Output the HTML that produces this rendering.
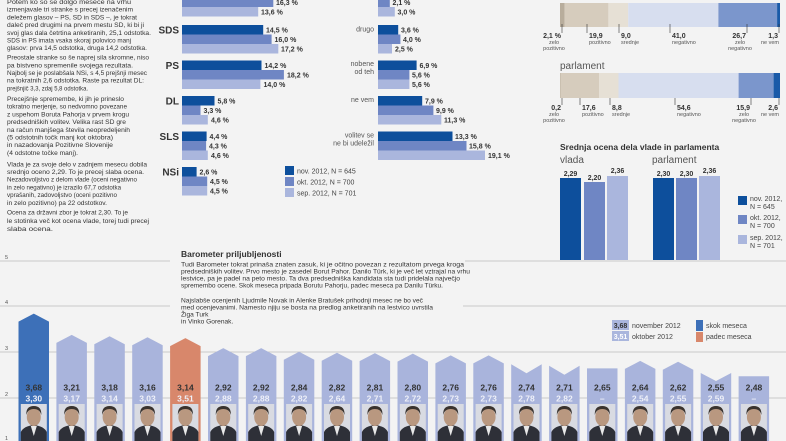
<!DOCTYPE html>
<html><head><meta charset="utf-8"><style>
html,body{margin:0;padding:0;background:#f3f3f3;}
svg{display:block;font-family:"Liberation Sans Narrow","Liberation Sans",sans-serif;}
.t{font-size:6.6px;fill:#333;}
.v{font-size:7px;fill:#333;font-weight:bold;}
.lb{font-size:10px;fill:#333;font-weight:bold;text-anchor:end;}
.rl{font-size:7px;fill:#555;text-anchor:end;}
.s{font-size:5.5px;fill:#555;}
.g{font-size:7px;fill:#444;}
</style></head><body>
<svg width="786" height="441" viewBox="0 0 786 441" xmlns="http://www.w3.org/2000/svg">
<rect width="786" height="441" fill="#f3f3f3"/>
<!-- grid -->
<g stroke="#bdbdbd" stroke-width="0.8">
<line x1="0" y1="261" x2="170" y2="261"/><line x1="465" y1="261" x2="786" y2="261"/>
<line x1="0" y1="306" x2="170" y2="306"/><line x1="463" y1="306" x2="786" y2="306"/>
<line x1="0" y1="352" x2="786" y2="352"/>
<line x1="0" y1="398" x2="786" y2="398"/>
</g>
<g class="s"><text x="5" y="259">5</text><text x="5" y="304">4</text><text x="5" y="350">3</text><text x="5" y="396">2</text><text x="5" y="440">1</text></g>

<!-- left column text -->
<g class="t">
<text x="7" y="4" textLength="124" lengthAdjust="spacingAndGlyphs">Potem ko so se dolgo mesece na vrhu</text>
<text x="7" y="11.7" textLength="126" lengthAdjust="spacingAndGlyphs">izmenjavale tri stranke s precej izenačenim</text>
<text x="7" y="19.4" textLength="130" lengthAdjust="spacingAndGlyphs">deležem glasov – PS, SD in SDS –, je tokrat</text>
<text x="7" y="27.1" textLength="137" lengthAdjust="spacingAndGlyphs">daleč pred drugimi na prvem mestu SD, ki bi ji</text>
<text x="7" y="34.8" textLength="144" lengthAdjust="spacingAndGlyphs">svoj glas dala četrtina anketiranih, 25,1 odstotka.</text>
<text x="7" y="42.5" textLength="124" lengthAdjust="spacingAndGlyphs">SDS in PS imata vsaka skoraj polovico manj</text>
<text x="7" y="50.2" textLength="140" lengthAdjust="spacingAndGlyphs">glasov: prva 14,5 odstotka, druga 14,2 odstotka.</text>
<text x="7" y="59.6" textLength="142" lengthAdjust="spacingAndGlyphs">Preostale stranke so še naprej sila skromne, niso</text>
<text x="7" y="67.3" textLength="126" lengthAdjust="spacingAndGlyphs">pa bistveno spremenile svojega rezultata.</text>
<text x="7" y="75" textLength="140" lengthAdjust="spacingAndGlyphs">Najbolj se je poslabšala NSi, s 4,5 prejšnji mesec</text>
<text x="7" y="82.7" textLength="137" lengthAdjust="spacingAndGlyphs">na tokratnih 2,6 odstotka. Raste pa rezultat DL:</text>
<text x="7" y="90.4" textLength="81" lengthAdjust="spacingAndGlyphs">prejšnjič 3,3, zdaj 5,8 odstotka.</text>
<text x="7" y="101" textLength="117" lengthAdjust="spacingAndGlyphs">Precejšnje spremembe, ki jih je prineslo</text>
<text x="7" y="108.7" textLength="120" lengthAdjust="spacingAndGlyphs">tokratno merjenje, so nedvomno povezane</text>
<text x="7" y="116.4" textLength="122" lengthAdjust="spacingAndGlyphs">z uspehom Boruta Pahorja v prvem krogu</text>
<text x="7" y="124.1" textLength="119" lengthAdjust="spacingAndGlyphs">predsedniških volitev. Velika rast SD gre</text>
<text x="7" y="131.8" textLength="123" lengthAdjust="spacingAndGlyphs">na račun manjšega števila neopredeljenih</text>
<text x="7" y="139.5" textLength="106" lengthAdjust="spacingAndGlyphs">(5 odstotnih točk manj kot oktobra)</text>
<text x="7" y="147.2" textLength="106" lengthAdjust="spacingAndGlyphs">in nazadovanja Pozitivne Slovenije</text>
<text x="7" y="154.9" textLength="71" lengthAdjust="spacingAndGlyphs">(4 odstotne točke manj).</text>
<text x="7" y="166.3" textLength="140" lengthAdjust="spacingAndGlyphs">Vlada je za svoje delo v zadnjem mesecu dobila</text>
<text x="7" y="174" textLength="137" lengthAdjust="spacingAndGlyphs">srednjo oceno 2,29. To je precej slaba ocena.</text>
<text x="7" y="181.7" textLength="130" lengthAdjust="spacingAndGlyphs">Nezadovoljstvo z delom vlade (oceni negativno</text>
<text x="7" y="189.4" textLength="114" lengthAdjust="spacingAndGlyphs">in zelo negativno) je izrazilo 67,7 odstotka</text>
<text x="7" y="197.1" textLength="110" lengthAdjust="spacingAndGlyphs">vprašanih, zadovoljstvo (oceni pozitivno</text>
<text x="7" y="204.8" textLength="100" lengthAdjust="spacingAndGlyphs">in zelo pozitivno) pa 22 odstotkov.</text>
<text x="7" y="214.6" textLength="121" lengthAdjust="spacingAndGlyphs">Ocena za državni zbor je tokrat 2,30. To je</text>
<text x="7" y="222.8" textLength="142" lengthAdjust="spacingAndGlyphs">le stotinka več kot ocena vlade, torej tudi precej</text>
<text x="7" y="231" textLength="46" lengthAdjust="spacingAndGlyphs">slaba ocena.</text>
</g>

<!-- party bars -->
<g>
<rect x="182" y="-12" width="140.6" height="9.5" fill="#0d4f9c"/>
<rect x="182" y="-2.5" width="91.3" height="9.5" fill="#6f86c4"/>
<rect x="182" y="7" width="76.2" height="9.5" fill="#aab6dd"/>
<rect x="182" y="25" width="81.2" height="9.5" fill="#0d4f9c"/>
<rect x="182" y="34.5" width="89.6" height="9.5" fill="#6f86c4"/>
<rect x="182" y="44" width="96.3" height="9.5" fill="#aab6dd"/>
<rect x="182" y="60.5" width="79.5" height="9.5" fill="#0d4f9c"/>
<rect x="182" y="70" width="101.9" height="9.5" fill="#6f86c4"/>
<rect x="182" y="79.5" width="78.4" height="9.5" fill="#aab6dd"/>
<rect x="182" y="96" width="32.5" height="9.5" fill="#0d4f9c"/>
<rect x="182" y="105.5" width="18.5" height="9.5" fill="#6f86c4"/>
<rect x="182" y="115" width="25.8" height="9.5" fill="#aab6dd"/>
<rect x="182" y="131.5" width="24.6" height="9.5" fill="#0d4f9c"/>
<rect x="182" y="141" width="24.1" height="9.5" fill="#6f86c4"/>
<rect x="182" y="150.5" width="25.8" height="9.5" fill="#aab6dd"/>
<rect x="182" y="167" width="14.6" height="9.5" fill="#0d4f9c"/>
<rect x="182" y="176.5" width="25.2" height="9.5" fill="#6f86c4"/>
<rect x="182" y="186" width="25.2" height="9.5" fill="#aab6dd"/>
</g>
<g class="v">
<text x="276" y="5">16,3 %</text><text x="261" y="14.5">13,6 %</text>
<text x="266" y="32.3">14,5 %</text><text x="274.5" y="41.8">16,0 %</text><text x="281" y="51.3">17,2 %</text>
<text x="264.5" y="67.8">14,2 %</text><text x="287" y="77.3">18,2 %</text><text x="263.5" y="86.8">14,0 %</text>
<text x="217.5" y="103.3">5,8 %</text><text x="203.5" y="112.8">3,3 %</text><text x="211" y="122.3">4,6 %</text>
<text x="209.5" y="138.8">4,4 %</text><text x="209" y="148.3">4,3 %</text><text x="211" y="157.8">4,6 %</text>
<text x="199.5" y="174.3">2,6 %</text><text x="210" y="183.8">4,5 %</text><text x="210" y="193.3">4,5 %</text>
</g>
<g class="lb">
<text x="179" y="33.5">SDS</text><text x="179" y="69">PS</text><text x="179" y="104.5">DL</text>
<text x="179" y="140">SLS</text><text x="179" y="175.5">NSi</text>
</g>

<!-- right group bars -->
<g>
<rect x="378" y="-2.5" width="11.8" height="9.5" fill="#6f86c4"/>
<rect x="378" y="7" width="16.8" height="9.5" fill="#aab6dd"/>
<rect x="378" y="25" width="20.2" height="9.5" fill="#0d4f9c"/>
<rect x="378" y="34.5" width="22.4" height="9.5" fill="#6f86c4"/>
<rect x="378" y="44" width="14" height="9.5" fill="#aab6dd"/>
<rect x="378" y="60.5" width="38.6" height="9.5" fill="#0d4f9c"/>
<rect x="378" y="70" width="31.4" height="9.5" fill="#6f86c4"/>
<rect x="378" y="79.5" width="31.4" height="9.5" fill="#aab6dd"/>
<rect x="378" y="96" width="44.2" height="9.5" fill="#0d4f9c"/>
<rect x="378" y="105.5" width="55.4" height="9.5" fill="#6f86c4"/>
<rect x="378" y="115" width="63.3" height="9.5" fill="#aab6dd"/>
<rect x="378" y="131.5" width="74.5" height="9.5" fill="#0d4f9c"/>
<rect x="378" y="141" width="88.5" height="9.5" fill="#6f86c4"/>
<rect x="378" y="150.5" width="107" height="9.5" fill="#aab6dd"/>
</g>
<g class="v">
<text x="392.5" y="5">2,1 %</text><text x="397.5" y="14.5">3,0 %</text>
<text x="401" y="32.3">3,6 %</text><text x="403" y="41.8">4,0 %</text><text x="395" y="51.3">2,5 %</text>
<text x="419.5" y="67.8">6,9 %</text><text x="412" y="77.3">5,6 %</text><text x="412" y="86.8">5,6 %</text>
<text x="425" y="103.3">7,9 %</text><text x="436" y="112.8">9,9 %</text><text x="444" y="122.3">11,3 %</text>
<text x="455" y="138.8">13,3 %</text><text x="469" y="148.3">15,8 %</text><text x="488" y="157.8">19,1 %</text>
</g>
<g class="rl">
<text x="374" y="31.5">drugo</text>
<text x="374" y="66">nobene</text><text x="374" y="74">od teh</text>
<text x="374" y="102">ne vem</text>
<text x="374" y="137.5">volitev se</text><text x="374" y="145.5">ne bi udeležil</text>
</g>
<!-- legend -->
<rect x="285" y="166" width="9" height="9" fill="#0d4f9c"/>
<rect x="285" y="177" width="9" height="9" fill="#6f86c4"/>
<rect x="285" y="188" width="9" height="9" fill="#aab6dd"/>
<g class="g"><text x="297" y="173.5">nov. 2012, N = 645</text><text x="297" y="184.5">okt. 2012, N = 700</text><text x="297" y="195.5">sep. 2012, N = 701</text></g>

<!-- stacked vlada -->
<rect x="560" y="3" width="4.6" height="24" fill="#b8ad9c"/>
<rect x="564.6" y="3" width="43.8" height="24" fill="#d6ccbd"/>
<rect x="608.4" y="3" width="19.8" height="24" fill="#e6e0d5"/>
<rect x="628.2" y="3" width="90.2" height="24" fill="#d7deef"/>
<rect x="718.4" y="3" width="58.7" height="24" fill="#7b96cc"/>
<rect x="777.1" y="3" width="2.9" height="24" fill="#1a5aa8"/>
<g stroke="#333" stroke-width="0.6">
<line x1="562" y1="24" x2="562" y2="33"/><line x1="587" y1="24" x2="587" y2="33"/><line x1="619" y1="24" x2="619" y2="33"/><line x1="670" y1="24" x2="670" y2="33"/><line x1="747" y1="24" x2="747" y2="33"/><line x1="779" y1="24" x2="779" y2="33"/>
<line x1="562" y1="96" x2="562" y2="105"/><line x1="580" y1="96" x2="580" y2="105"/><line x1="610" y1="96" x2="610" y2="105"/><line x1="675" y1="96" x2="675" y2="105"/><line x1="751" y1="96" x2="751" y2="105"/><line x1="779" y1="96" x2="779" y2="105"/>
</g>
<g class="v">
<text x="561" y="38" text-anchor="end">2,1 %</text><text x="589" y="38">19,9</text><text x="621" y="38">9,0</text><text x="672" y="38">41,0</text><text x="746" y="38" text-anchor="end">26,7</text><text x="778" y="38" text-anchor="end">1,3</text>
<text x="561" y="110" text-anchor="end">0,2</text><text x="582" y="110">17,6</text><text x="612" y="110">8,8</text><text x="677" y="110">54,6</text><text x="750" y="110" text-anchor="end">15,9</text><text x="778" y="110" text-anchor="end">2,6</text>
</g>
<g class="s">
<text x="554" y="44" text-anchor="middle">zelo</text><text x="554" y="50" text-anchor="middle">pozitivno</text>
<text x="589" y="44">pozitivno</text><text x="621" y="44">srednje</text><text x="672" y="44">negativno</text>
<text x="740" y="44" text-anchor="middle">zelo</text><text x="740" y="50" text-anchor="middle">negativno</text><text x="779" y="44" text-anchor="end">ne vem</text>
<text x="554" y="116" text-anchor="middle">zelo</text><text x="554" y="122" text-anchor="middle">pozitivno</text>
<text x="582" y="116">pozitivno</text><text x="612" y="116">srednje</text><text x="677" y="116">negativno</text>
<text x="744" y="116" text-anchor="middle">zelo</text><text x="744" y="122" text-anchor="middle">negativno</text><text x="779" y="116" text-anchor="end">ne vem</text>
</g>
<text x="560" y="69" font-size="10" fill="#555">parlament</text>
<rect x="560" y="73" width="0.5" height="25" fill="#b8ad9c"/>
<rect x="560.4" y="73" width="38.8" height="25" fill="#d6ccbd"/>
<rect x="599.2" y="73" width="19.3" height="25" fill="#e6e0d5"/>
<rect x="618.5" y="73" width="120.1" height="25" fill="#d7deef"/>
<rect x="738.6" y="73" width="35" height="25" fill="#7b96cc"/>
<rect x="773.6" y="73" width="6.4" height="25" fill="#1a5aa8"/>

<!-- srednja ocena -->
<text x="560" y="150" font-size="8.5" font-weight="bold" fill="#333">Srednja ocena dela vlade in parlamenta</text>
<text x="560" y="163" font-size="10" fill="#555">vlada</text>
<text x="652" y="163" font-size="10" fill="#555">parlament</text>
<rect x="560" y="178" width="21" height="82" fill="#0d4f9c"/>
<rect x="584" y="182" width="21" height="78" fill="#6f86c4"/>
<rect x="607" y="176" width="21" height="84" fill="#aab6dd"/>
<rect x="653" y="178" width="21" height="82" fill="#0d4f9c"/>
<rect x="676" y="178" width="21" height="82" fill="#6f86c4"/>
<rect x="699" y="176" width="21" height="84" fill="#aab6dd"/>
<g class="v" text-anchor="middle">
<text x="570.5" y="176">2,29</text><text x="594.5" y="180">2,20</text><text x="617.5" y="173">2,36</text>
<text x="663.5" y="176">2,30</text><text x="686.5" y="176">2,30</text><text x="709.5" y="173">2,36</text>
</g>
<rect x="738" y="196" width="9" height="9" fill="#0d4f9c"/>
<rect x="738" y="215" width="9" height="9" fill="#6f86c4"/>
<rect x="738" y="235" width="9" height="9" fill="#aab6dd"/>
<g class="g" font-size="6.5">
<text x="750" y="201">nov. 2012,</text><text x="750" y="209">N = 645</text>
<text x="750" y="220">okt. 2012,</text><text x="750" y="228">N = 700</text>
<text x="750" y="240">sep. 2012,</text><text x="750" y="248">N = 701</text>
</g>

<!-- barometer text -->
<text x="181" y="257" font-size="8.5" font-weight="bold" fill="#333">Barometer priljubljenosti</text>
<g class="t" font-size="6.3">
<text x="181" y="266.5" textLength="283" lengthAdjust="spacingAndGlyphs">Tudi Barometer tokrat prinaša znaten zasuk, ki je očitno povezan z rezultatom prvega kroga</text>
<text x="181" y="273.5" textLength="289" lengthAdjust="spacingAndGlyphs">predsedniških volitev. Prvo mesto je zasedel Borut Pahor. Danilo Türk, ki je več let vztrajal na vrhu</text>
<text x="181" y="280.5" textLength="279" lengthAdjust="spacingAndGlyphs">lestvice, pa je padel na peto mesto. Ta dva predsedniška kandidata sta tudi pridelala največjo</text>
<text x="181" y="287.5" textLength="262" lengthAdjust="spacingAndGlyphs">spremembo ocene. Skok meseca pripada Borutu Pahorju, padec meseca pa Danilu Türku.</text>
<text x="181" y="302.5" textLength="242" lengthAdjust="spacingAndGlyphs">Najslabše ocenjenih Ljudmile Novak in Alenke Bratušek prihodnji mesec ne bo več</text>
<text x="181" y="309.5" textLength="252" lengthAdjust="spacingAndGlyphs">med ocenjevanimi. Namesto njiju se bosta na predlog anketiranih na lestvico uvrstila</text>
<text x="181" y="316.5">Žiga Turk</text>
<text x="181" y="323.5">in Vinko Gorenak.</text>
</g>

<!-- bottom legend -->
<rect x="612" y="320" width="17" height="10" fill="#aab6dd"/>
<rect x="612" y="331" width="17" height="10" fill="#aab6dd"/>
<text x="620.5" y="328" class="v" text-anchor="middle">3,68</text>
<text x="620.5" y="339" class="v" text-anchor="middle" style="fill:#fff">3,51</text>
<text x="632" y="328" class="g" font-size="6.5">november 2012</text>
<text x="632" y="339" class="g" font-size="6.5">oktober 2012</text>
<rect x="696" y="320" width="7" height="11" fill="#3d70b8"/>
<rect x="696" y="332" width="7" height="10" fill="#d8876b"/>
<text x="706" y="328" class="g" font-size="6.5">skok meseca</text>
<text x="706" y="339" class="g" font-size="6.5">padec meseca</text>

<!-- popularity bars -->
<g fill="#a9b4dc">
<path d="M18.5 441V321.6L33.8 313.6L49 321.6V441Z" fill="#3d70b8"/>
<path d="M56.4 441V342.9L71.7 334.9L86.9 342.9V441Z"/>
<path d="M94.3 441V344.3L109.6 336.3L124.8 344.3V441Z"/>
<path d="M132.2 441V345.2L147.5 337.2L162.7 345.2V441Z"/>
<path d="M170.1 441V346.1L185.4 338.1L200.6 346.1V441Z" fill="#d8876b"/>
<path d="M208 441V356.1L223.3 348.1L238.5 356.1V441Z"/>
<path d="M245.9 441V356.1L261.2 348.1L276.4 356.1V441Z"/>
<path d="M283.8 441V359.8L299.1 351.8L314.3 359.8V441Z"/>
<path d="M321.7 441V360.7L337 352.7L352.2 360.7V441Z"/>
<path d="M359.6 441V361.1L374.9 353.1L390.1 361.1V441Z"/>
<path d="M397.5 441V361.6L412.8 353.6L428 361.6V441Z"/>
<path d="M435.4 441V363.4L450.7 355.4L465.9 363.4V441Z"/>
<path d="M473.3 441V363.4L488.6 355.4L503.8 363.4V441Z"/>
<path d="M511.2 441V364.3L526.5 373.3L541.7 364.3V441Z"/>
<path d="M549.1 441V365.7L564.4 374.7L579.6 365.7V441Z"/>
<path d="M587 441V368.4H617.5V441Z"/>
<path d="M624.9 441V368.9L640.2 360.9L655.4 368.9V441Z"/>
<path d="M662.8 441V369.8L678.1 361.8L693.3 369.8V441Z"/>
<path d="M700.7 441V373L716 381L731.2 373V441Z"/>
<path d="M738.6 441V376.2H769.1V441Z"/>
</g>
<g font-size="8.5" font-weight="bold" fill="#333" text-anchor="middle">
<text x="33.8" y="390.5">3,68</text><text x="71.7" y="390.5">3,21</text><text x="109.6" y="390.5">3,18</text><text x="147.5" y="390.5">3,16</text><text x="185.4" y="390.5">3,14</text>
<text x="223.3" y="390.5">2,92</text><text x="261.2" y="390.5">2,92</text><text x="299.1" y="390.5">2,84</text><text x="337" y="390.5">2,82</text><text x="374.9" y="390.5">2,81</text>
<text x="412.8" y="390.5">2,80</text><text x="450.7" y="390.5">2,76</text><text x="488.6" y="390.5">2,76</text><text x="526.5" y="390.5">2,74</text><text x="564.4" y="390.5">2,71</text>
<text x="602.3" y="390.5">2,65</text><text x="640.2" y="390.5">2,64</text><text x="678.1" y="390.5">2,62</text><text x="716" y="390.5">2,55</text><text x="753.9" y="390.5">2,48</text>
</g>
<g font-size="8.5" font-weight="bold" fill="#eef0f8" text-anchor="middle">
<text x="33.8" y="401.5">3,30</text><text x="71.7" y="401.5">3,17</text><text x="109.6" y="401.5">3,14</text><text x="147.5" y="401.5">3,03</text><text x="185.4" y="401.5">3,51</text>
<text x="223.3" y="401.5">2,88</text><text x="261.2" y="401.5">2,88</text><text x="299.1" y="401.5">2,82</text><text x="337" y="401.5">2,64</text><text x="374.9" y="401.5">2,71</text>
<text x="412.8" y="401.5">2,72</text><text x="450.7" y="401.5">2,73</text><text x="488.6" y="401.5">2,73</text><text x="526.5" y="401.5">2,78</text><text x="564.4" y="401.5">2,82</text>
<text x="602.3" y="401.5">–</text><text x="640.2" y="401.5">2,54</text><text x="678.1" y="401.5">2,55</text><text x="716" y="401.5">2,59</text><text x="753.9" y="401.5">–</text>
</g>
<defs>
<g id="p">
<rect x="-13" y="404" width="26" height="37" fill="#d9dbe2"/>
<path d="M-13 441V432Q-10 426 0 425Q10 426 13 432V441Z" fill="#2e3038"/>
<path d="M-3 426L0 436L3 426Z" fill="#e8e8e8"/>
<ellipse cx="0" cy="417" rx="7" ry="9" fill="#b99880"/>
<path d="M-7.5 415Q-8 406 0 406Q8 406 7.5 415Q6 409 0 409Q-6 409 -7.5 415Z" fill="#3a332e"/>
</g>
</defs>
<use href="#p" x="33.8"/><use href="#p" x="71.7"/><use href="#p" x="109.6"/><use href="#p" x="147.5"/><use href="#p" x="185.4"/>
<use href="#p" x="223.3"/><use href="#p" x="261.2"/><use href="#p" x="299.1"/><use href="#p" x="337"/><use href="#p" x="374.9"/>
<use href="#p" x="412.8"/><use href="#p" x="450.7"/><use href="#p" x="488.6"/><use href="#p" x="526.5"/><use href="#p" x="564.4"/>
<use href="#p" x="602.3"/><use href="#p" x="640.2"/><use href="#p" x="678.1"/><use href="#p" x="716"/><use href="#p" x="753.9"/>
</svg>
</body></html>
